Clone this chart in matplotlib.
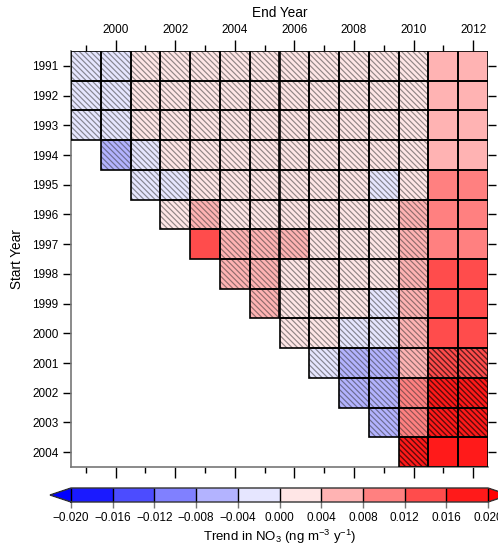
import numpy as np
import matplotlib
matplotlib.use("Agg")
import matplotlib.pyplot as plt
from matplotlib.colors import ListedColormap, BoundaryNorm
from matplotlib.patches import Rectangle

plt.rcParams['font.family'] = ['Liberation Sans', 'DejaVu Sans']
plt.rcParams['mathtext.fontset'] = 'custom'
plt.rcParams['mathtext.rm'] = 'Liberation Sans'
plt.rcParams['mathtext.it'] = 'Liberation Sans:italic'
plt.rcParams['mathtext.default'] = 'regular'

end_years = list(range(1999, 2013))
start_years = list(range(1991, 2005))

nan = np.nan
B1, B2 = -0.002, -0.006
P1, P2, P3, P4, P5 = 0.002, 0.006, 0.010, 0.014, 0.018

trend = np.array([
    [B1, B1, P1, P1, P1, P1, P1, P1, P1, P1, P1, P1, P2, P2],    # 1991
    [B1, B1, P1, P1, P1, P1, P1, P1, P1, P1, P1, P1, P2, P2],    # 1992
    [B1, B1, P1, P1, P1, P1, P1, P1, P1, P1, P1, P1, P2, P2],    # 1993
    [nan, B2, B1, P1, P1, P1, P1, P1, P1, P1, P1, P1, P2, P2],   # 1994
    [nan, nan, B1, B1, P1, P1, P1, P1, P1, P1, B1, P1, P3, P3],  # 1995
    [nan, nan, nan, P1, P2, P1, P1, P1, P1, P1, P1, P2, P3, P3], # 1996
    [nan, nan, nan, nan, P4, P2, P2, P2, P1, P1, P1, P2, P3, P3],  # 1997
    [nan, nan, nan, nan, nan, P2, P2, P1, P1, P1, P1, P2, P4, P4], # 1998
    [nan, nan, nan, nan, nan, nan, P2, P1, P1, P1, B1, P2, P4, P4],  # 1999
    [nan, nan, nan, nan, nan, nan, nan, P1, P1, B1, B1, P2, P4, P4], # 2000
    [nan, nan, nan, nan, nan, nan, nan, nan, B1, B2, B2, P2, P4, P4],  # 2001
    [nan, nan, nan, nan, nan, nan, nan, nan, nan, B2, B2, P3, P5, P5], # 2002
    [nan, nan, nan, nan, nan, nan, nan, nan, nan, nan, B2, P3, P5, P5],  # 2003
    [nan, nan, nan, nan, nan, nan, nan, nan, nan, nan, nan, P5, P5, P5], # 2004
])

# 0 = no hatch, 1 = hatch, 2 = dense hatch
hatch_code = np.array([
    [1, 1, 1, 1, 1, 1, 1, 1, 1, 1, 1, 1, 0, 0],
    [1, 1, 1, 1, 1, 1, 1, 1, 1, 1, 1, 1, 0, 0],
    [1, 1, 1, 1, 1, 1, 1, 1, 1, 1, 1, 1, 0, 0],
    [0, 1, 1, 1, 1, 1, 1, 1, 1, 1, 1, 1, 0, 0],
    [0, 0, 1, 1, 1, 1, 1, 1, 1, 1, 1, 1, 0, 0],
    [0, 0, 0, 1, 1, 1, 1, 1, 1, 1, 1, 1, 0, 0],
    [0, 0, 0, 0, 0, 1, 1, 1, 1, 1, 1, 1, 0, 0],
    [0, 0, 0, 0, 0, 1, 1, 1, 1, 1, 1, 1, 0, 0],
    [0, 0, 0, 0, 0, 0, 1, 1, 1, 1, 1, 1, 0, 0],
    [0, 0, 0, 0, 0, 0, 0, 1, 1, 1, 1, 1, 0, 0],
    [0, 0, 0, 0, 0, 0, 0, 0, 1, 1, 1, 1, 2, 2],
    [0, 0, 0, 0, 0, 0, 0, 0, 0, 1, 1, 1, 2, 2],
    [0, 0, 0, 0, 0, 0, 0, 0, 0, 0, 1, 1, 2, 2],
    [0, 0, 0, 0, 0, 0, 0, 0, 0, 0, 0, 2, 0, 0],
])

levels = [-0.020, -0.016, -0.012, -0.008, -0.004, 0.000, 0.004, 0.008, 0.012, 0.016, 0.020]
bin_colors = ['#1a1aff', '#4c4cff', '#8080ff', '#b3b3ff', '#e6e6ff',
              '#ffe6e6', '#ffb3b3', '#ff8080', '#ff4c4c', '#ff1a1a']

cmap = ListedColormap(bin_colors)
cmap.set_under('#0000ff')
cmap.set_over('#ff0000')
norm = BoundaryNorm(levels, cmap.N)

W, H = 498, 548
fig = plt.figure(figsize=(W / 100, H / 100), dpi=100)
ax = fig.add_axes([71 / W, 1 - 467 / H, 417 / W, 416 / H])

xe = np.arange(end_years[0] - 0.5, end_years[-1] + 1.0, 1.0)
ye = np.arange(start_years[0] - 0.5, start_years[-1] + 1.0, 1.0)
data = np.ma.masked_invalid(trend)
mesh = ax.pcolormesh(xe, ye, data, cmap=cmap, norm=norm, shading='flat',
                     edgecolors='none', zorder=1)

for i, sy in enumerate(start_years):
    for j, ey in enumerate(end_years):
        if np.isnan(trend[i, j]):
            continue
        code = hatch_code[i, j]
        if code:
            r = Rectangle((ey - 0.5, sy - 0.5), 1, 1, fill=False, linewidth=0,
                          hatch='\\\\\\\\\\\\',
                          edgecolor=(0.15, 0.15, 0.15, 0.5) if code == 1 else (0, 0, 0, 0.62),
                          zorder=2)
            try:
                r.set_hatch_linewidth(0.85 if code == 1 else 1.0)
            except AttributeError:
                pass
            ax.add_patch(r)
        ax.add_patch(Rectangle((ey - 0.5, sy - 0.5), 1, 1, fill=False,
                               edgecolor='black', linewidth=1.2, zorder=3))

ax.set_xlim(xe[0], xe[-1])
ax.set_ylim(ye[-1], ye[0])

major_x = [y for y in end_years if y % 2 == 0]
minor_x = [y for y in end_years if y % 2 == 1]
ax.set_xticks(major_x)
ax.set_xticks(minor_x, minor=True)
ax.set_xticklabels([str(y) for y in major_x])
ax.tick_params(axis='x', which='major', top=True, bottom=True, labeltop=True,
               labelbottom=False, direction='out', length=8, width=1,
               labelsize=8.5, pad=3)
ax.tick_params(axis='x', which='minor', top=True, bottom=True,
               direction='out', length=4.5, width=1)
ax.set_yticks(start_years)
ax.set_yticklabels([str(y) for y in start_years])
ax.tick_params(axis='y', which='major', left=True, right=True, labelleft=True,
               labelright=False, direction='out', length=6, width=1,
               labelsize=8.5, pad=3)
ax.xaxis.set_label_position('top')
ax.set_xlabel('End Year', fontsize=9.8, labelpad=5)
ax.set_ylabel('Start Year', fontsize=9.8, labelpad=6)

for s in ['top', 'right']:
    ax.spines[s].set_visible(False)
for s in ['left', 'bottom']:
    ax.spines[s].set_color('#777777')
    ax.spines[s].set_linewidth(1.2)

cax = fig.add_axes([50 / W, 1 - 502 / H, 459 / W, 14 / H])
cb = fig.colorbar(mesh, cax=cax, orientation='horizontal', extend='both',
                  extendfrac=21 / 417, drawedges=True, ticks=levels)
cb.ax.set_xticklabels([('%.3f' % v).replace('-', '\u2212') if abs(v) > 1e-12 else '0.000'
                       for v in levels])
cb.ax.tick_params(labelsize=8.5, length=4, width=1, color='#777777', pad=3)
cb.outline.set_edgecolor('#333333')
cb.outline.set_linewidth(1)
cb.dividers.set_color('black')
cb.dividers.set_linewidth(1)
cb.set_label('Trend in NO$_3$ (ng m$^{-3}$ y$^{-1}$)', fontsize=9.5, labelpad=3)

fig.savefig('out.png', dpi=100)
